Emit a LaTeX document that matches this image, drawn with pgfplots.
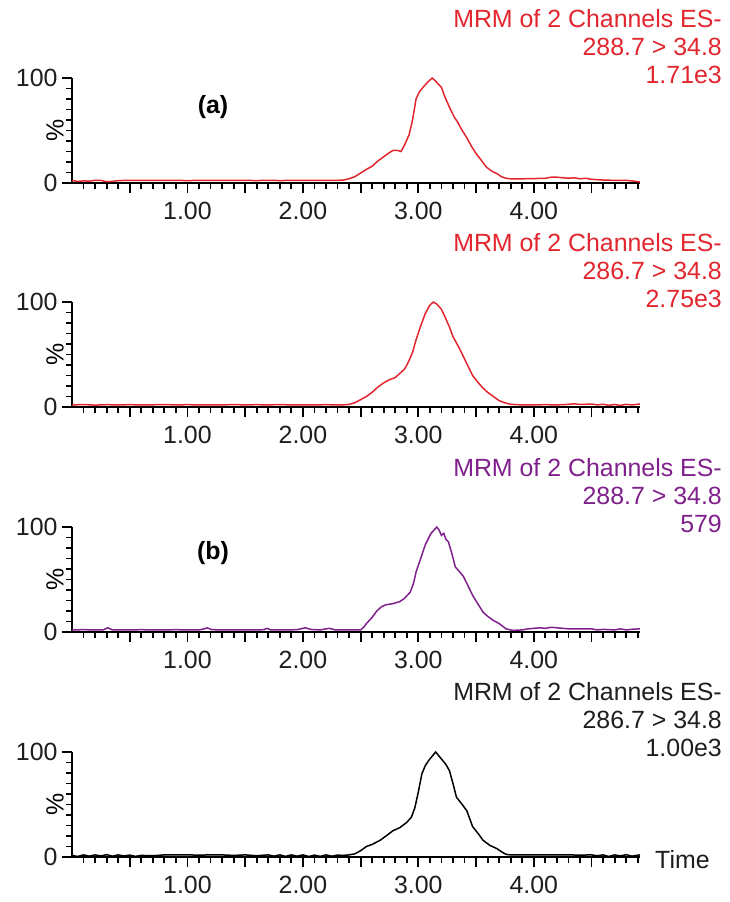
\documentclass[border=0pt]{standalone}
\usepackage{pgfplots}
\pgfplotsset{compat=1.18}
\usepackage{fontspec}
\setmainfont{Liberation Sans}
\definecolor{msred}{RGB}{226,38,46}
\definecolor{mspurple}{RGB}{128,32,140}
\definecolor{msink}{RGB}{30,30,30}

\pgfplotsset{chrom/.style={
  scale only axis, width=568bp, height=105bp, anchor=south west,
  xmin=0, xmax=4.92, ymin=0, ymax=100, clip=false,
  axis x line*=bottom, axis y line*=left,
  axis line style={line width=2.6bp, black},
  tick align=outside, tick style={line width=1.8bp, black},
  major tick length=10bp, minor tick length=6bp,
  xtick={0.5,1,...,4.5}, xticklabels={,1.00,,2.00,,3.00,,4.00,},
  minor xtick={0.1,0.2,0.3,0.4,0.6,0.7,0.8,0.9,1.1,1.2,1.3,1.4,1.6,1.7,1.8,1.9,2.1,2.2,2.3,2.4,2.6,2.7,2.8,2.9,3.1,3.2,3.3,3.4,3.6,3.7,3.8,3.9,4.1,4.2,4.3,4.4,4.6,4.7,4.8,4.9},
  ytick={0,100}, yticklabels={0,100}, minor ytick={10,20,...,90},
  ticklabel style={font=\fontsize{25}{28}\selectfont, text=msink},
  xticklabel style={yshift=-6bp}, yticklabel style={xshift=-1bp},
}}
\newcommand{\hdr}[4]{%
  \node[anchor=base east, inner sep=0pt, text=#2] at (722bp,#1bp) {MRM of 2 Channels ES-};
  \node[anchor=base east, inner sep=0pt, text=#2] at (722bp,#1bp-28bp) {#3 > 34.8};
  \node[anchor=base east, inner sep=0pt, text=#2] at (722bp,#1bp-56bp) {#4};
}

\begin{document}
\begin{tikzpicture}[font=\fontsize{25}{28}\selectfont]
\useasboundingbox (0,0) rectangle (730bp,902bp);

% panel 1
\begin{axis}[chrom, at={(72bp,719bp)}]
\addplot[msred, line width=1.5bp] coordinates {
(0.00,2.5) (0.05,1.5) (0.10,2.0) (0.15,1.8) (0.20,2.5) (0.25,2.5) (0.30,1.2) (0.35,1.5) (0.40,2.3)
(0.50,2.5) (0.60,2.5) (0.70,2.4) (0.80,2.5) (0.90,2.5) (1.00,2.3) (1.10,2.5) (1.20,2.5) (1.30,2.4)
(1.40,2.5) (1.50,2.5) (1.60,2.3) (1.70,2.6) (1.80,2.3) (1.90,2.5) (2.00,2.4) (2.10,2.5) (2.20,2.5)
(2.30,2.5) (2.35,2.8) (2.40,4) (2.45,6) (2.50,9.5) (2.55,13) (2.60,16) (2.65,21) (2.70,25) (2.75,29)
(2.78,31) (2.82,31) (2.85,30) (2.88,36) (2.92,46) (2.95,60) (2.98,80) (3.01,87) (3.04,91) (3.08,96)
(3.12,100) (3.15,97) (3.20,91) (3.23,82) (3.27,72) (3.31,63) (3.34,58) (3.38,50) (3.42,43) (3.46,35)
(3.50,28) (3.55,21) (3.59,15) (3.64,11) (3.68,9) (3.72,6) (3.76,4.5) (3.80,4) (3.90,4) (4.00,4.2)
(4.10,4.5) (4.15,5.5) (4.20,5.5) (4.25,5) (4.30,4.5) (4.35,5) (4.40,4) (4.45,4.5) (4.50,3.5)
(4.60,2.8) (4.70,2.5) (4.80,2.5) (4.85,2) (4.92,1.0)
};
\node[rotate=90] at (rel axis cs:0,0.5) [yshift=17bp] {\%};
\end{axis}

% panel 2
\begin{axis}[chrom, at={(72bp,495bp)}]
\addplot[msred, line width=1.5bp] coordinates {
(0.00,2) (0.10,2.3) (0.20,1.8) (0.30,2.2) (0.40,2) (0.50,2.2) (0.60,2) (0.70,2.1) (0.80,2.3)
(0.90,2) (1.00,2.2) (1.10,2) (1.20,2.1) (1.30,2) (1.40,2.3) (1.50,2) (1.60,2.2) (1.70,2) (1.80,2.3)
(1.90,2) (2.00,2.1) (2.10,2) (2.20,2.2) (2.30,2) (2.35,2) (2.40,2.5) (2.45,4) (2.50,7) (2.55,10)
(2.60,14) (2.65,19) (2.70,23) (2.75,26) (2.80,28) (2.84,32) (2.88,36) (2.91,42) (2.95,52) (2.98,64)
(3.02,77) (3.06,89) (3.10,97) (3.13,100) (3.16,98) (3.20,93) (3.23,86) (3.27,76) (3.30,67) (3.35,57)
(3.39,48) (3.43,39) (3.47,30) (3.52,23) (3.56,18) (3.60,14) (3.65,10) (3.70,6) (3.75,4) (3.80,2.5)
(3.90,2) (4.00,2) (4.10,2.2) (4.20,2) (4.30,2.5) (4.35,3) (4.40,2.4) (4.50,2.8) (4.55,2) (4.60,2.6)
(4.65,1.6) (4.70,2.4) (4.75,1.5) (4.80,2.5) (4.85,2) (4.92,2.8)
};
\node[rotate=90] at (rel axis cs:0,0.5) [yshift=17bp] {\%};
\end{axis}

% panel 3
\begin{axis}[chrom, at={(72bp,270bp)}]
\addplot[mspurple, line width=1.5bp] coordinates {
(0.00,2) (0.10,2.2) (0.20,2) (0.27,2) (0.31,4) (0.35,2) (0.50,2) (0.60,2.2) (0.70,2) (0.80,2)
(0.90,2.2) (1.00,2) (1.10,2) (1.14,2.8) (1.17,4) (1.21,2.2) (1.30,2) (1.40,2.1) (1.50,2) (1.60,2)
(1.66,2.2) (1.69,3.5) (1.72,2) (1.85,2) (1.95,2.2) (2.02,4) (2.07,2.4) (2.15,2) (2.23,3.5) (2.28,2)
(2.40,2) (2.50,2) (2.53,5) (2.55,8) (2.60,14) (2.64,20) (2.68,24) (2.72,26) (2.78,27) (2.84,29)
(2.88,32) (2.93,38) (2.96,47) (2.98,57) (3.02,70) (3.06,83) (3.11,94) (3.16,100) (3.18,97)
(3.20,92) (3.22,94) (3.24,88) (3.26,86) (3.29,75) (3.32,62) (3.36,57) (3.39,53) (3.43,44) (3.47,35)
(3.52,26) (3.56,19) (3.60,15) (3.65,11) (3.70,8) (3.76,3) (3.82,1.5) (3.90,2) (3.95,3) (4.00,3.5)
(4.05,4) (4.10,3.5) (4.15,4.5) (4.20,4) (4.30,3) (4.40,3) (4.50,3) (4.55,2) (4.60,2.5) (4.70,2)
(4.75,3) (4.80,2) (4.85,2.6) (4.92,3)
};
\node[rotate=90] at (rel axis cs:0,0.5) [yshift=17bp] {\%};
\end{axis}

% panel 4
\begin{axis}[chrom, at={(72bp,45bp)}]
\addplot[black, line width=1.5bp] coordinates {
(0.00,1.5) (0.05,0.5) (0.10,2) (0.15,0.8) (0.20,2) (0.25,1) (0.30,2.2) (0.35,0.8) (0.40,2)
(0.45,1) (0.50,1.8) (0.55,0.6) (0.60,1.5) (0.70,1.2) (0.80,2) (0.90,2) (1.00,2) (1.10,1.8)
(1.20,2) (1.30,2) (1.40,1.5) (1.50,2) (1.60,1.2) (1.70,2) (1.75,0.8) (1.80,2) (1.85,0.6) (1.90,2)
(1.95,0.8) (2.00,2) (2.05,0.5) (2.10,1.8) (2.15,0.6) (2.20,2) (2.25,0.8) (2.30,1.8) (2.35,1.5)
(2.40,2) (2.45,3) (2.50,6) (2.55,10) (2.60,12) (2.67,16) (2.72,20) (2.78,25) (2.84,28) (2.90,33)
(2.94,38) (2.97,47) (3.00,62) (3.03,79) (3.06,87) (3.09,92) (3.12,96) (3.15,100) (3.18,96)
(3.21,92) (3.24,88) (3.27,82) (3.30,70) (3.33,57) (3.38,50) (3.42,44) (3.47,29) (3.52,22)
(3.56,16) (3.62,11) (3.68,8) (3.72,5) (3.76,2.5) (3.80,2) (3.90,2) (4.00,2) (4.10,2) (4.20,2)
(4.30,2) (4.40,1.8) (4.50,2) (4.55,1.2) (4.60,2) (4.65,0.5) (4.70,2) (4.75,1) (4.80,2.2)
(4.85,0.8) (4.92,2)
};
\node[rotate=90] at (rel axis cs:0,0.5) [yshift=17bp] {\%};
\end{axis}

\hdr{874}{msred}{288.7}{1.71e3}
\hdr{650}{msred}{286.7}{2.75e3}
\hdr{425}{mspurple}{288.7}{579}
\hdr{201}{msink}{286.7}{1.00e3}

\node[font=\fontsize{25}{28}\selectfont\bfseries] at (213bp,795bp) {(a)};
\node[font=\fontsize{25}{28}\selectfont\bfseries] at (213bp,349bp) {(b)};
\node[anchor=base west, inner sep=0pt, text=msink] at (655bp,34bp) {Time};
\end{tikzpicture}
\end{document}
